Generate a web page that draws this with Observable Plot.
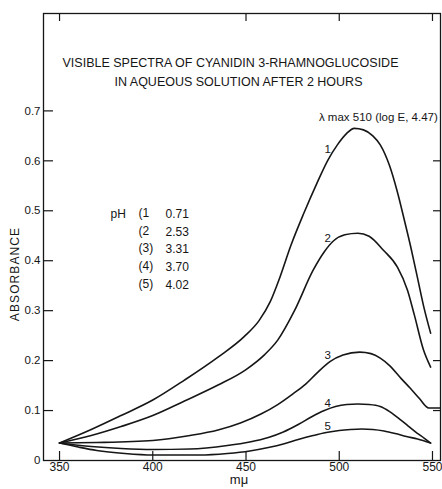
<!DOCTYPE html>
<html><head><meta charset="utf-8">
<script src="https://cdn.jsdelivr.net/npm/d3@7"></script>
<script src="https://cdn.jsdelivr.net/npm/@observablehq/plot@0.6"></script>
<style>body{margin:0;background:#fff} svg{display:block}</style>
</head><body><div id="chart"></div>
<script>
const title1 = "VISIBLE SPECTRA OF CYANIDIN 3-RHAMNOGLUCOSIDE";
const title2 = "IN AQUEOUS SOLUTION AFTER 2 HOURS";
const annotation = "λ max 510 (log E, 4.47)";
const lambdaMax = 510;
const xLabel = "mμ";
const yLabel = "ABSORBANCE";
const curveNames = ["1", "2", "3", "4", "5"];
const phKeys = ["(1", "(2", "(3)", "(4)", "(5)"];
const phValues = ["0.71", "2.53", "3.31", "3.70", "4.02"];
const xTicks = [350, 400, 450, 500, 550];
const xTopTicks = [350, 450, 500, 550];
const yTicks = [0, 0.1, 0.2, 0.3, 0.4, 0.5, 0.6, 0.7];
const yRightTicks = [0.1, 0.2, 0.3, 0.4, 0.5, 0.6];
const labelNm = 496;

const nm1 = [350,367,383,400,417,435,449,457,463,468,474,481,488,494,499,504,508,513,518,522,527,531,535,538.5,542,545.5,549];
const abs1 = [0.035,0.062,0.09,0.121,0.161,0.207,0.248,0.28,0.318,0.365,0.43,0.495,0.555,0.602,0.632,0.655,0.665,0.662,0.65,0.632,0.59,0.54,0.48,0.425,0.365,0.305,0.255];
const nm2 = [350,367,383,400,417,435,450,460,467,476,486,492,497,503,510,516,523.7,531.2,536.6,540.3,545.2,549];
const abs2 = [0.035,0.05,0.068,0.09,0.119,0.151,0.182,0.212,0.241,0.30,0.381,0.418,0.44,0.452,0.455,0.449,0.421,0.387,0.341,0.291,0.221,0.187];
const nm3 = [350,370,400,420,435,447,458,467,475,482,488,495,502,511,517,522,527,533,538,543,548,554];
const abs3 = [0.035,0.036,0.04,0.05,0.061,0.075,0.093,0.112,0.133,0.153,0.175,0.198,0.211,0.217,0.214,0.205,0.19,0.165,0.145,0.124,0.105,0.105];
const nm4 = [350,367,383,400,420,440,452,462,470,478,485,492,498,504,510,516,522,527,532.7,537,541.7,545.5,549];
const abs4 = [0.035,0.028,0.024,0.022,0.023,0.03,0.037,0.046,0.057,0.072,0.087,0.1,0.108,0.112,0.113,0.112,0.108,0.098,0.082,0.069,0.055,0.045,0.035];
const nm5 = [350,360,370,385,400,425,440,452,462,470,478,486,493,500,506,512,518,524,530,536,542,549];
const abs5 = [0.035,0.027,0.02,0.014,0.011,0.011,0.014,0.019,0.026,0.033,0.042,0.05,0.056,0.06,0.062,0.063,0.062,0.059,0.054,0.048,0.043,0.035];

const nmSets = [nm1, nm2, nm3, nm4, nm5];
const absSets = [abs1, abs2, abs3, abs4, abs5];
const rows = [];
curveNames.forEach((name, i) => nmSets[i].forEach((x, j) => rows.push({name, nm: x, abs: absSets[i][j]})));

function valueAt(xs, ys, x) {
  for (let j = 1; j < xs.length; j++) {
    if (xs[j] >= x) { const t = (x - xs[j-1]) / (xs[j] - xs[j-1]); return ys[j-1] + t * (ys[j] - ys[j-1]); }
  }
  return ys[ys.length - 1];
}
const labels = curveNames.map((name, i) => ({name, nm: labelNm, abs: valueAt(nmSets[i], absSets[i], labelNm)}));
const peak = [{nm: lambdaMax, abs: d3.max(abs1)}];

const W = 442, H = 489;
const mL = 43, mR = 2, mT = 13, mB = 29;
const fw = W - mL - mR, fh = H - mT - mB;
const ink = "#161616";
const font = "Liberation Sans, Arial, sans-serif";

const chart = Plot.plot({
  width: W, height: H,
  marginLeft: mL, marginRight: mR, marginTop: mT, marginBottom: mB,
  style: {fontFamily: font, fontSize: "11px", color: ink, background: "#fff"},
  x: {domain: [341.4, 554.3]},
  y: {domain: [0, 0.895]},
  marks: [
    Plot.frame({stroke: ink, strokeWidth: 1.3}),
    Plot.line(rows, {x: "nm", y: "abs", z: "name", curve: "monotone-x", stroke: ink, strokeWidth: 1.6}),
    Plot.tickX(xTicks, {x: d => d, insetTop: fh - 9, stroke: ink, strokeWidth: 1.2}),
    Plot.tickX(xTopTicks, {x: d => d, insetBottom: fh - 8, stroke: ink, strokeWidth: 1.2}),
    Plot.tickY(yTicks.filter(v => v > 0), {y: d => d, insetRight: fw - 10, stroke: ink, strokeWidth: 1.2}),
    Plot.tickY(yRightTicks, {y: d => d, insetLeft: fw - 7, stroke: ink, strokeWidth: 1.2}),
    Plot.axisX(xTicks, {tickSize: 0, tickPadding: 2, fontSize: 12, label: null}),
    Plot.axisY(yTicks, {tickSize: 0, tickPadding: 3, fontSize: 11.5, label: null, tickFormat: d => d === 0 ? "0" : d.toFixed(1)}),
    Plot.text([xLabel], {text: d => d, frameAnchor: "bottom", dx: -3, dy: 23.5, fontSize: 13, fill: ink}),
    Plot.text([yLabel], {text: d => d, frameAnchor: "left", textAnchor: "middle", rotate: -90, dx: -28, dy: 37, fontSize: 12, fill: ink}),
    Plot.text([title1], {text: d => d, frameAnchor: "top", dx: -11.5, dy: 45, fontSize: 12.5, fill: ink}),
    Plot.text([title2], {text: d => d, frameAnchor: "top", dx: -3.5, dy: 64, fontSize: 12.5, fill: ink}),
    Plot.text(peak, {x: "nm", y: "abs", text: () => annotation, textAnchor: "start", dx: -39, dy: -11, fontSize: 11.5, fill: ink}),
    Plot.text(labels, {x: "nm", y: "abs", text: "name", textAnchor: "end", dx: -1, dy: -5, fontSize: 11.5, fill: ink}),
    Plot.text(["pH"], {text: d => d, frameAnchor: "top-left", textAnchor: "start", dx: 67, dy: 196, fontSize: 12, fill: ink}),
    Plot.text([phKeys.join("\n")], {text: d => d, frameAnchor: "top-left", textAnchor: "start", lineAnchor: "top", lineHeight: 1.47, dx: 95, dy: 191, fontSize: 12, fill: ink}),
    Plot.text([phValues.join("\n")], {text: d => d, frameAnchor: "top-left", textAnchor: "start", lineAnchor: "top", lineHeight: 1.47, dx: 122, dy: 192, fontSize: 12, fill: ink})
  ]
});
d3.select(chart).selectAll("text").filter(function() { return this.textContent === yLabel; }).attr("letter-spacing", "1.1px");
document.getElementById("chart").appendChild(chart);
</script>
</body></html>
